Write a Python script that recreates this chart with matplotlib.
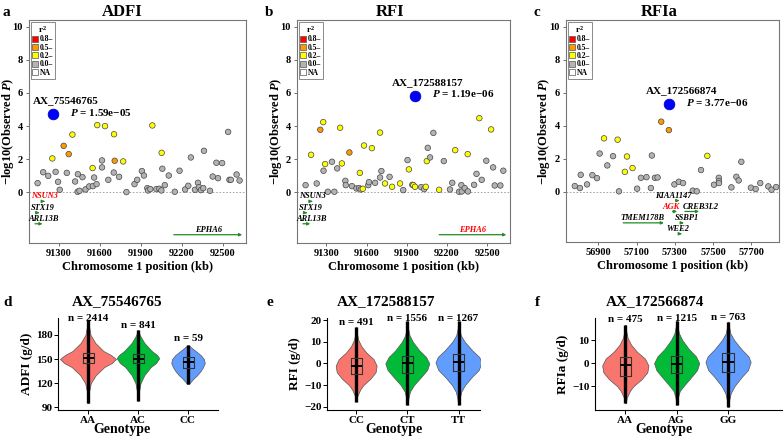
import matplotlib
matplotlib.use("Agg")
import matplotlib.pyplot as plt
from matplotlib.lines import Line2D

plt.rcParams['font.family'] = ['Liberation Serif', 'DejaVu Serif']
plt.rcParams['font.weight'] = 'bold'
plt.rcParams['mathtext.fontset'] = 'custom'
plt.rcParams['mathtext.rm'] = 'Liberation Serif:bold'
plt.rcParams['mathtext.it'] = 'Liberation Serif:italic:bold'
plt.rcParams['mathtext.bf'] = 'Liberation Serif:bold'

# ---- locus zoom data (position kb, -log10 P, r2 class) ----
pos_a = [91143, 91184, 91221, 91251, 91275, 91293, 91305, 91334, 91357, 91371,
         91398, 91418, 91438, 91436, 91450, 91472, 91494, 91521, 91546, 91548,
         91557, 91575, 91580, 91615, 91615, 91637, 91661, 91701, 91703, 91708,
         91740, 91770, 91794, 91853, 91873, 91907, 91922, 91947, 91952, 91969,
         91984, 92013, 92035, 92050, 92052, 92057, 92075, 92104, 92148, 92183,
         92224, 92247, 92266, 92296, 92318, 92325, 92340, 92357, 92362, 92406,
         92426, 92453, 92465, 92495, 92539, 92549, 92559, 92601, 92623]
logp_a = [0.56, 1.22, 1.00, 2.05, 1.24, 0.64, 0.16, 2.81, 1.18, 2.31,
          3.49, 0.66, 1.10, 0.04, 0.10, 0.92, 0.18, 0.36, 1.47, 0.38,
          0.90, 0.50, 4.06, 1.93, 1.51, 4.00, 0.76, 1.20, 3.51, 1.91,
          0.94, 1.87, 0.02, 0.50, 0.76, 1.29, 1.02, 0.26, 0.12, 0.20,
          4.04, 0.20, 0.22, 0.12, 2.39, 1.43, 0.44, 1.02, 0.04, 1.31,
          0.18, 0.40, 2.11, 0.16, 0.58, 0.32, 0.14, 0.26, 2.51, 0.10,
          0.96, 1.79, 0.86, 1.77, 3.65, 0.76, 0.76, 1.08, 0.72]
r2_a = ['g', 'g', 'g', 'y', 'g', 'g', 'g', 'o', 'g', 'o',
        'y', 'g', 'g', 'g', 'g', 'g', 'g', 'g', 'y', 'g',
        'g', 'g', 'y', 'g', 'g', 'y', 'g', 'g', 'y', 'o',
        'g', 'y', 'g', 'g', 'g', 'g', 'g', 'g', 'g', 'g',
        'y', 'g', 'g', 'g', 'y', 'g', 'g', 'g', 'g', 'g',
        'g', 'g', 'g', 'g', 'g', 'g', 'g', 'g', 'g', 'g',
        'g', 'g', 'g', 'g', 'g', 'g', 'g', 'g', 'g']

pos_b = [91144, 91185, 91227, 91254, 91276, 91278, 91290, 91310, 91341, 91359,
         91380, 91402, 91415, 91441, 91444, 91471, 91490, 91524, 91544, 91549,
         91556, 91571, 91580, 91612, 91617, 91639, 91663, 91700, 91700, 91710,
         91737, 91771, 91790, 91849, 91873, 91905, 91915, 91941, 91949, 91961,
         92007, 92029, 92041, 92049, 92056, 92073, 92098, 92141, 92176, 92222,
         92239, 92261, 92290, 92307, 92310, 92332, 92354, 92356, 92402, 92420,
         92441, 92459, 92493, 92529, 92544, 92556, 92598, 92620]
logp_b = [0.44, 2.27, 0.54, 3.78, 4.24, 1.31, 1.71, 0.04, 1.85, 0.04,
          1.45, 3.90, 1.75, 0.70, 0.44, 2.41, 0.38, 0.24, 0.26, 1.18,
          0.18, 0.22, 2.83, 0.44, 0.62, 2.67, 0.58, 3.61, 0.90, 1.29,
          0.54, 0.94, 0.34, 0.54, 0.14, 1.95, 1.39, 0.46, 0.44, 0.34,
          0.32, 0.20, 0.34, 1.89, 2.69, 2.11, 3.59, 0.16, 1.89, 0.18,
          0.58, 2.55, 0.04, 0.44, 0.06, 0.26, 2.31, 0.06, 0.46, 1.12,
          4.48, 0.76, 1.91, 3.80, 1.51, 0.42, 0.42, 1.31]
r2_b = ['g', 'y', 'g', 'o', 'y', 'g', 'y', 'g', 'g', 'g',
        'g', 'y', 'y', 'g', 'g', 'o', 'g', 'g', 'g', 'y',
        'g', 'y', 'y', 'g', 'g', 'y', 'g', 'y', 'g', 'g',
        'y', 'g', 'y', 'y', 'g', 'g', 'y', 'g', 'y', 'y',
        'g', 'g', 'y', 'y', 'g', 'g', 'g', 'y', 'g', 'g',
        'g', 'y', 'g', 'g', 'g', 'g', 'y', 'g', 'g', 'g',
        'y', 'g', 'g', 'y', 'g', 'g', 'g', 'g']

pos_c = [56777, 56804, 56808, 56841, 56869, 56893, 56907, 56930, 56947, 56977,
         57001, 57008, 57039, 57050, 57079, 57103, 57123, 57152, 57175, 57180,
         57196, 57210, 57229, 57269, 57298, 57321, 57343, 57394, 57415, 57437,
         57470, 57505, 57530, 57531, 57531, 57596, 57622, 57634, 57648, 57698,
         57723, 57747, 57789, 57806, 57830]
logp_c = [0.34, 0.22, 1.02, 0.44, 1.00, 0.82, 2.31, 3.23, 1.59, 2.15,
          3.15, 0.02, 1.20, 2.13, 1.43, 0.18, 0.84, 0.88, 0.22, 2.19,
          0.84, 0.86, 4.24, 3.73, 0.44, 0.60, 0.52, 0.06, 0.02, 1.31,
          2.17, 0.42, 0.84, 0.64, 0.52, 0.26, 0.90, 0.68, 1.81, 0.24,
          0.16, 0.52, 0.32, 0.12, 0.28]
r2_c = ['g', 'g', 'g', 'g', 'g', 'g', 'g', 'y', 'g', 'g',
        'y', 'g', 'y', 'y', 'y', 'g', 'g', 'g', 'g', 'g',
        'g', 'g', 'o', 'o', 'g', 'g', 'g', 'g', 'g', 'g',
        'y', 'g', 'g', 'g', 'g', 'g', 'g', 'g', 'g', 'g',
        'g', 'g', 'g', 'g', 'g']

lead_snp = ['AX_75546765', 'AX_172588157', 'AX_172566874']
lead_pos = [91256, 91963, 57270]
lead_logp = [4.72, 5.84, 5.32]
lead_pval = ['1.59e\u221205', '1.19e\u221206', '3.77e\u221206']
traits = ['ADFI', 'RFI', 'RFIa']

# genes: name, start, end, track y, label x
genes_ab = ['NSUN3', 'STX19', 'ARL13B', 'EPHA6']
gstart_ab = [91182, 91142, 91124, 92141]
gend_ab = [91196, 91156, 91179, 92642]
gy_ab = [-0.54, -1.22, -1.89, -2.55]
glabx_ab = [91195, 91183, 91190, 92393]
genes_c = ['KIAA1147', 'AGK', 'CREB3L2', 'TMEM178B', 'SSBP1', 'WEE2']
gstart_c = [57312, 57288, 57353, 57030, 57335, 57325]
gend_c = [57324, 57312, 57427, 57243, 57347, 57337]
gy_c = [-0.54, -1.20, -1.20, -1.89, -1.89, -2.55]
glabx_c = [57292, 57280, 57435, 57132, 57365, 57318]

# ---- violin data ----
geno_d = ['AA', 'AC', 'CC']
geno_e = ['CC', 'CT', 'TT']
geno_f = ['AA', 'AG', 'GG']
n_d = [2414, 841, 59]
n_e = [491, 1556, 1267]
n_f = [475, 1215, 763]
ny_d = [201, 192, 175]
ny_e = [19.0, 20.6, 20.6]
ny_f = [18.9, 19.3, 20.0]

lev_d = [[95, 110, 120, 130, 140, 145, 150, 155, 160, 170, 180, 190, 198],
         [98, 110, 120, 130, 140, 145, 151, 155, 160, 170, 180, 186],
         [119, 125, 130, 135, 140, 145, 150, 155, 160, 165, 167]]
den_d = [[0.02, 0.04, 0.1, 0.28, 0.58, 0.85, 1.0, 0.82, 0.55, 0.26, 0.09, 0.04, 0.02],
         [0.02, 0.05, 0.12, 0.3, 0.6, 0.85, 1.0, 0.9, 0.65, 0.3, 0.08, 0.02],
         [0.05, 0.3, 0.55, 0.75, 0.9, 1.0, 0.95, 0.75, 0.45, 0.15, 0.05]]
lev_e = [[-17.6, -15, -12, -10, -7, -4, -1, 2, 5, 8, 11, 14, 16.8],
         [-19.1, -16, -13, -10, -6, -3, 0, 3, 6, 10, 13, 16, 19.5],
         [-19.0, -16, -13, -10, -6, -3, 0.5, 3, 6, 10, 13, 16, 19.5]]
den_e = [[0.02, 0.06, 0.2, 0.35, 0.7, 0.95, 1.0, 0.85, 0.5, 0.25, 0.1, 0.04, 0.02],
         [0.02, 0.05, 0.12, 0.3, 0.65, 0.9, 1.0, 0.85, 0.55, 0.25, 0.1, 0.04, 0.02],
         [0.02, 0.05, 0.12, 0.28, 0.6, 0.88, 1.0, 0.9, 0.6, 0.27, 0.1, 0.04, 0.02]]
lev_f = [[-17.4, -15, -12, -10, -7, -4, -1, 2, 5, 8, 11, 14, 16.6],
         [-18.1, -15, -12, -10, -6, -3, 0, 3, 6, 10, 13, 16, 18.5],
         [-18.9, -16, -13, -10, -6, -3, 0.5, 3, 6, 10, 13, 16, 18.0]]
den_f = [[0.02, 0.06, 0.2, 0.35, 0.7, 0.95, 1.0, 0.85, 0.5, 0.25, 0.1, 0.04, 0.02],
         [0.02, 0.05, 0.14, 0.3, 0.65, 0.9, 1.0, 0.85, 0.55, 0.25, 0.1, 0.04, 0.02],
         [0.02, 0.05, 0.12, 0.28, 0.6, 0.88, 1.0, 0.9, 0.6, 0.27, 0.1, 0.04, 0.02]]
vw_d = [1.12, 0.85, 0.67]
vw_e = [0.8, 0.86, 0.9]
vw_f = [0.9, 0.88, 0.88]

q1_d = [145, 145, 139]
med_d = [151, 150, 146]
q3_d = [157.5, 156, 153]
q1_e = [-4.9, -4.3, -3.4]
med_e = [-1.0, 0.0, 0.5]
q3_e = [2.6, 3.4, 4.3]
q1_f = [-5.4, -4.3, -3.7]
med_f = [-1.0, -0.3, 0.4]
q3_f = [2.6, 3.2, 4.3]

r2_colors = {'g': '#B3B3B3', 'y': '#FFFF00', 'o': '#FF9900', 'r': '#FF0000'}
vcolors = ['#F8766D', '#00BA38', '#619CFF']
gcol = '#228B22'

fig = plt.figure(figsize=(7.84, 4.36), dpi=100)
W, H = 784, 436


def add_ax(l, r, t, b):
    return fig.add_axes([l / W, (H - b) / H, (r - l) / W, (b - t) / H])


def locus(ax, pos, logp, r2, k, xlim, xticks, gnames, gs, ge, gy, glx, red_gene, ylab_x):
    cols = [r2_colors[c] for c in r2]
    ax.axhline(0, color='#9a9a9a', lw=0.6, ls=(0, (2, 2)), zorder=1)
    ax.scatter(pos, logp, s=16, c=cols, edgecolors='#444444', linewidths=0.5, zorder=3)
    ax.scatter([lead_pos[k]], [lead_logp[k]], s=60, c='#0000FF', edgecolors='#0000AA',
               linewidths=0.5, zorder=4)
    span = xlim[1] - xlim[0]
    ax.text(lead_pos[k] + 0.058 * span, lead_logp[k] + 0.8, lead_snp[k], ha='center',
            va='center', fontsize=8, fontweight='bold')
    ax.text(lead_pos[k] + 0.08 * span, lead_logp[k] + 0.1, '$P$ = ' + lead_pval[k],
            ha='left', va='center', fontsize=8, fontweight='bold')
    for name, s, e, y, lx in zip(gnames, gs, ge, gy, glx):
        ax.annotate('', xy=(e, y), xytext=(s, y),
                    arrowprops=dict(arrowstyle='-|>', color=gcol, lw=0.9,
                                    mutation_scale=4, shrinkA=0, shrinkB=0))
        ax.text(lx, y + 0.3, name, ha='center', va='center', fontsize=6,
                fontweight='bold', style='italic',
                color='#FF0000' if name == red_gene else 'black')
    ax.set_xlim(xlim)
    ax.set_ylim(-3.05, 10.4)
    ax.set_yticks([0, 2, 4, 6, 8, 10])
    ax.set_xticks(xticks)
    ax.tick_params(labelsize=7.5, length=2.5, width=0.6, pad=2, colors='#555555',
                   labelcolor='black')
    for sp in ax.spines.values():
        sp.set_color('#777777')
        sp.set_linewidth(0.8)
    ax.set_ylabel('\u2212log10(Observed $P$)', fontsize=9, fontweight='bold')
    ax.yaxis.label.set_va('center')
    ax.yaxis.set_label_coords(ylab_x, 0.5)
    ax.set_xlabel('Chromosome 1 position (kb)', fontsize=9, fontweight='bold', labelpad=2)
    handles = [Line2D([], [], marker='s', ls='', markersize=4, markerfacecolor=c,
                      markeredgecolor='#555555', markeredgewidth=0.5)
               for c in ['#FF0000', '#FF9900', '#FFFF00', '#B3B3B3', 'white']]
    leg = ax.legend(handles, ['0.8\u2013', '0.5\u2013', '0.2\u2013', '0.0\u2013', 'NA'],
                    title='r$^2$', loc='upper left', bbox_to_anchor=(0.0, 1.0),
                    fontsize=5.5, title_fontsize=6.5, handlelength=0.7,
                    handletextpad=0.2, labelspacing=0.05, borderpad=0.25,
                    borderaxespad=0.25, fancybox=False, framealpha=1)
    leg.get_frame().set_edgecolor('#777777')
    leg.get_frame().set_linewidth(0.6)
    for t in leg.get_texts():
        t.set_fontweight('bold')


ax_a = add_ax(29, 246, 20, 243)
locus(ax_a, pos_a, logp_a, r2_a, 0, (91080, 92670), [91300, 91600, 91900, 92200, 92500],
      genes_ab, gstart_ab, gend_ab, gy_ab, glabx_ab, 'NSUN3', -0.098)
ax_b = add_ax(297, 510, 20, 243)
locus(ax_b, pos_b, logp_b, r2_b, 1, (91080, 92670), [91300, 91600, 91900, 92200, 92500],
      genes_ab, gstart_ab, gend_ab, gy_ab, glabx_ab, 'EPHA6', -0.1)
ax_c = add_ax(566, 779, 20, 242)
locus(ax_c, pos_c, logp_c, r2_c, 2, (56731, 57845), [56900, 57100, 57300, 57500, 57700],
      genes_c, gstart_c, gend_c, gy_c, glabx_c, 'AGK', -0.105)

for x, t in zip([122, 390, 659], traits):
    fig.text(x / W, 1 - 12 / H, t, ha='center', va='center', fontsize=12, fontweight='bold')
for x, y, t in zip([6, 269, 537, 8, 270, 537], [12, 12, 12, 302, 302, 302],
                   ['a', 'b', 'c', 'd', 'e', 'f']):
    fig.text(x / W, 1 - y / H, t, ha='center', va='center', fontsize=11, fontweight='bold')


def violins(ax, lev, den, vw, q1, med, q3, geno, n, ny, ylim, yticks, ylabel, title_x,
            title, xlim, glab_x):
    pos = [1, 2, 3]
    stats = [dict(coords=l, vals=d, mean=m, median=m, min=l[0], max=l[-1])
             for l, d, m in zip(lev, den, med)]
    for i in range(3):
        parts = ax.violin([stats[i]], positions=[pos[i]], widths=vw[i],
                          showmeans=False, showextrema=False, showmedians=False)
        for body in parts['bodies']:
            body.set_facecolor(vcolors[i])
            body.set_edgecolor('#555555')
            body.set_linewidth(0.5)
            body.set_alpha(1)
    ax.vlines(pos, [l[0] for l in lev], [l[-1] for l in lev], color='black', lw=2.4, zorder=3)
    bstats = [dict(med=m, q1=a, q3=b, whislo=a, whishi=b, fliers=[])
              for m, a, b in zip(med, q1, q3)]
    ax.bxp(bstats, positions=pos, widths=0.22, showfliers=False, showcaps=False,
           boxprops=dict(color='#333333', lw=0.8), whiskerprops=dict(lw=0),
           medianprops=dict(color='black', lw=1.4), zorder=4)
    for p, c, y in zip(pos, n, ny):
        ax.text(p, y, 'n = %d' % c, ha='center', va='center', fontsize=8,
                fontweight='bold', clip_on=False)
    ax.set_xlim(xlim)
    ax.set_ylim(ylim)
    ax.set_yticks(yticks)
    ax.set_xticks(pos)
    ax.set_xticklabels(geno)
    ax.spines['top'].set_visible(False)
    ax.spines['right'].set_visible(False)
    ax.tick_params(labelsize=8, length=3, width=0.7, pad=1)
    ax.set_ylabel(ylabel, fontsize=9.5, fontweight='bold', labelpad=2)
    ax.set_xlabel('Genotype', fontsize=10, fontweight='bold')
    ax.xaxis.set_label_coords(glab_x, -0.215)
    ax.xaxis.label.set_va('center')
    fig.text(title_x / W, 1 - 302 / H, title, ha='center', va='center', fontsize=11,
             fontweight='bold')


ax_d = add_ax(58, 218, 318, 410)
violins(ax_d, lev_d, den_d, vw_d, q1_d, med_d, q3_d, geno_d, n_d, ny_d, (86.6, 201),
        [90, 120, 150, 180], 'ADFI (g/d)', 117, lead_snp[0], (0.4, 3.6), 0.4)
ax_e = add_ax(327, 480, 318, 410)
violins(ax_e, lev_e, den_e, vw_e, q1_e, med_e, q3_e, geno_e, n_e, ny_e, (-21.5, 21),
        [-20, -10, 0, 10, 20], 'RFI (g/d)', 386, lead_snp[1], (0.43, 3.42), 0.44)
ax_f = add_ax(595, 782, 318, 410)
violins(ax_f, lev_f, den_f, vw_f, q1_f, med_f, q3_f, geno_f, n_f, ny_f, (-20.3, 19.6),
        [-10, 0, 10], 'RFIa (g/d)', 655, lead_snp[2], (0.41, 4.05), 0.37)

fig.savefig('out.png', dpi=100)
